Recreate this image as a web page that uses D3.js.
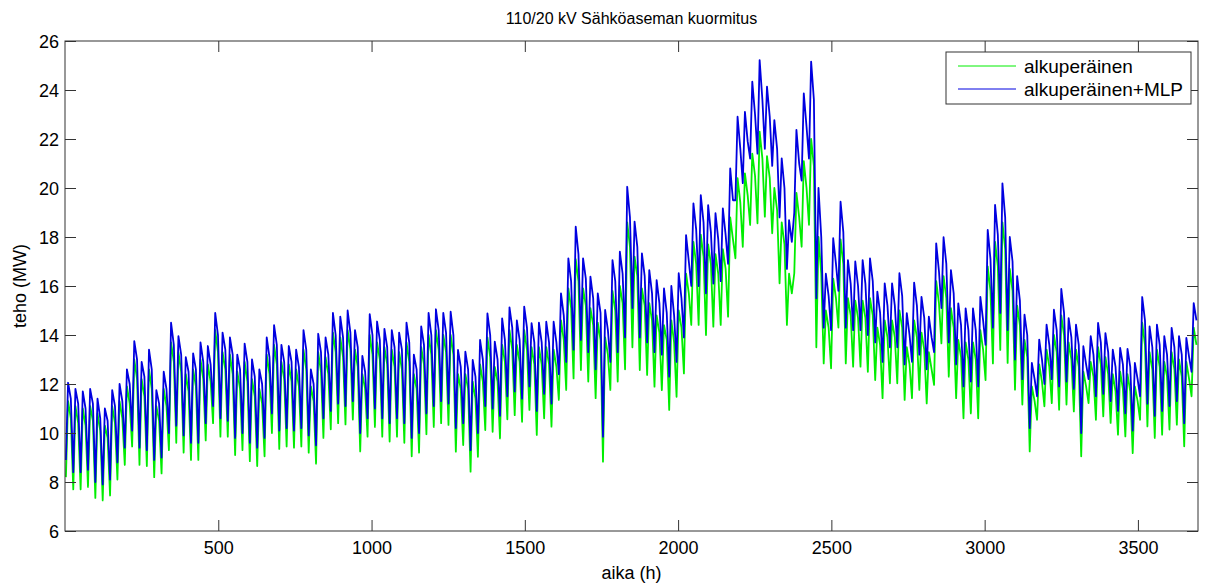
<!DOCTYPE html>
<html><head><meta charset="utf-8">
<script src="https://cdn.jsdelivr.net/npm/d3@7"></script>
<style>
html,body{margin:0;padding:0;background:#fff;}
svg text{font-family:"Liberation Sans",Arial,Helvetica,sans-serif;fill:#000;}
</style></head>
<body><svg id="c" width="1205" height="583"></svg>
<script>
// ---- data (per day: night trough, day peak, evening level; MW) ----
const hoursPerDay = 24;
const xTicks = [500, 1000, 1500, 2000, 2500, 3000, 3500];
const yTicks = [6, 8, 10, 12, 14, 16, 18, 20, 22, 24, 26];
const seriesNames = ["alkuperäinen", "alkuperäinen+MLP"];

const greenLow = [
8.2,7.7,7.7,7.8,7.35,7.25,7.45,8.1,8.7,9.45,
8.7,8.65,8.2,8.35,9.3,9.6,9.2,8.9,8.9,9.7,
10.4,9.85,9.85,9.1,9.3,8.85,8.65,9.05,10.0,9.35,
9.45,9.4,9.45,9.2,8.75,9.8,10.15,10.4,10.35,10.55,
9.25,9.85,10.25,9.85,9.65,9.85,9.6,9.05,9.2,9.95,
10.25,10.4,10.33,9.24,9.51,8.42,9.03,10.12,10.05,9.78,
10.56,10.73,10.46,10.94,9.92,10.6,10.26,11.35,11.76,12.23,
12.57,12.1,11.42,8.83,11.76,12.1,12.6,13.5,12.57,12.37,
11.89,11.75,10.94,11.48,12.43,14.41,14.41,14.0,14.34,14.41,
14.75,17.13,17.6,18.49,18.56,18.83,18.15,16.11,14.41,16.52,
17.6,18.5,13.5,12.84,12.64,14.3,12.84,12.71,12.71,12.5,
12.16,11.42,12.03,12.03,11.35,11.42,11.76,11.21,11.96,13.66,
12.3,11.42,10.6,10.8,10.6,12.16,12.84,13.39,12.86,11.77,
11.16,9.25,10.54,11.09,11.22,10.95,11.16,10.88,9.05,11.22,
10.54,10.68,10.41,9.93,9.86,9.18,10.54,10.27,9.8,9.93,
10.14,10.34,9.46,11.5];

const greenHigh = [
11.3,11.1,11.0,11.1,10.8,10.3,11.1,11.3,11.9,13.0,
12.2,12.6,11.1,11.8,13.7,13.3,12.4,12.6,13.0,12.8,
14.2,13.3,13.2,12.5,12.9,12.2,11.8,13.2,13.6,12.9,
12.8,12.6,13.4,11.9,13.3,13.1,14.1,13.9,14.2,13.4,
12.4,14.0,13.7,13.5,13.4,13.3,13.7,12.4,13.5,14.0,
14.2,14.0,14.0,12.4,12.4,12.1,12.8,13.9,12.7,13.6,
14.2,13.6,14.2,13.5,13.5,13.5,13.4,14.6,15.9,17.1,
15.9,15.1,14.5,13.9,15.8,16.0,18.6,17.2,15.9,15.3,
14.8,14.4,14.6,15.0,16.5,17.8,18.1,17.7,17.3,17.5,
18.8,20.4,20.6,21.4,22.3,21.3,20.0,18.6,16.5,19.8,
21.1,22.0,18.0,15.0,16.3,17.9,15.5,15.4,15.4,15.5,
14.3,14.6,14.6,15.0,13.5,14.6,14.1,13.3,16.2,16.4,
15.1,13.8,13.7,13.7,14.2,16.8,17.8,18.6,16.7,15.2,
13.8,11.9,12.8,13.4,14.0,14.8,13.7,13.4,12.5,12.9,
13.5,13.1,12.4,12.5,12.4,11.9,14.5,13.3,13.4,12.9,
13.3,13.0,12.9,14.3];

const greenEve = [
10.6,10.4,10.3,10.5,10.1,9.8,10.4,10.6,11.2,12.2,
11.5,11.8,10.5,11.1,12.9,12.5,11.7,11.9,12.2,12.1,
13.3,12.6,12.4,11.8,12.1,11.5,11.2,12.4,12.8,12.2,
12.1,11.9,12.6,11.3,12.5,12.4,13.3,13.1,13.4,12.7,
11.8,13.2,13.0,12.8,12.7,12.6,12.9,11.8,12.8,13.2,
13.4,13.3,13.2,11.8,11.8,11.4,12.1,13.1,12.1,12.9,
13.4,12.9,13.4,12.8,12.8,12.8,12.7,13.8,15.1,16.2,
15.2,14.4,13.8,13.2,15.0,15.3,17.6,16.4,15.2,14.6,
14.1,13.8,13.7,14.3,15.7,16.9,17.2,16.9,16.5,16.7,
17.9,19.4,19.7,20.5,21.2,20.4,19.1,17.7,15.7,18.8,
20.0,20.9,16.5,14.3,15.5,16.9,14.8,14.7,14.7,14.8,
13.6,13.9,13.9,14.3,12.8,13.9,13.4,12.6,15.3,15.5,
14.3,13.1,13.0,13.0,13.4,15.8,16.8,17.5,15.8,14.4,
13.1,11.3,12.1,12.7,13.3,14.0,13.0,12.7,11.9,12.3,
12.8,12.4,11.7,11.8,11.7,11.3,13.6,12.6,12.7,12.3,
12.6,12.3,12.2,13.6];

const blueLow = [
8.9,8.4,8.4,8.5,8.0,7.9,8.1,8.8,9.4,10.1,
9.4,9.3,8.9,9.0,10.0,10.3,9.9,9.6,9.6,10.4,
11.1,10.6,10.5,9.8,10.0,9.6,9.4,9.8,10.8,10.1,
10.2,10.1,10.2,9.9,9.5,10.6,10.9,11.2,11.1,11.3,
10.0,10.6,11.0,10.6,10.4,10.6,10.4,9.8,10.0,10.8,
11.1,11.3,11.2,10.2,10.4,9.3,10.0,11.1,11.0,10.7,
11.5,11.7,11.4,11.9,10.9,11.6,11.2,12.4,12.9,13.4,
13.8,13.3,12.6,9.85,12.9,13.3,13.9,15.1,13.9,13.7,
13.3,13.2,12.3,12.9,13.9,16.0,16.0,15.7,16.1,16.2,
16.9,19.5,20.2,21.2,21.4,21.6,20.9,18.8,16.7,19.0,
20.3,21.2,15.5,14.3,14.2,15.8,14.3,14.2,14.2,14.0,
13.7,12.9,13.5,13.5,12.8,12.9,13.2,12.6,13.3,15.1,
13.7,12.8,11.9,12.1,11.9,13.6,14.3,14.9,14.2,13.0,
12.2,10.2,11.5,12.0,12.2,11.9,12.1,11.8,10.0,12.2,
11.5,11.6,11.3,10.9,10.8,10.1,11.5,11.2,10.7,10.9,
11.1,11.3,10.4,12.5];

const blueHigh = [
12.05,11.8,11.7,11.8,11.4,11.0,11.75,12.0,12.6,13.75,
12.9,13.4,11.75,12.5,14.5,13.95,13.1,13.25,13.7,13.55,
14.9,14.1,13.9,13.2,13.65,13.0,12.6,13.9,14.4,13.6,
13.55,13.4,14.2,12.6,14.05,13.9,14.9,14.75,15.0,14.2,
13.15,14.85,14.55,14.25,14.2,14.1,14.5,13.2,14.35,14.9,
15.05,14.9,14.95,13.39,13.32,12.98,13.8,14.88,13.73,14.68,
15.13,14.6,15.16,14.48,14.5,14.54,14.54,15.7,17.13,18.42,
17.13,16.38,15.7,15.02,17.06,17.4,20.05,18.63,17.33,16.65,
16.24,15.9,16.0,16.52,18.08,19.37,19.71,19.3,18.97,19.17,
20.8,22.91,23.11,24.34,25.22,24.14,22.77,21.21,18.69,22.37,
23.86,25.16,20.0,16.5,17.95,19.44,17.06,17.0,17.06,17.13,
15.77,16.11,16.11,16.52,14.89,16.14,15.56,14.75,17.74,17.99,
16.65,15.29,15.09,15.09,15.56,18.29,19.31,20.19,18.0,16.4,
14.83,12.86,13.81,14.42,15.03,15.88,14.69,14.42,13.54,13.95,
14.49,14.08,13.4,13.47,13.43,12.86,15.55,14.35,14.42,13.95,
14.29,13.95,13.88,15.3];

const blueEve = [
11.4,11.2,11.0,11.2,10.6,10.5,11.1,11.3,12.0,13.0,
12.3,12.6,11.2,11.8,13.6,13.2,12.5,12.6,12.9,12.8,
14.0,13.4,13.2,12.6,12.9,12.3,12.0,13.1,13.6,12.9,
12.9,12.7,13.4,12.0,13.3,13.2,14.0,13.9,14.1,13.5,
12.5,14.0,13.8,13.5,13.5,13.4,13.7,12.6,13.6,14.0,
14.2,14.1,14.0,12.7,12.6,12.3,13.0,14.0,13.0,13.8,
14.3,13.8,14.3,13.7,13.7,13.7,13.7,14.8,16.2,17.3,
16.3,15.5,14.9,14.2,16.2,16.5,18.8,17.6,16.4,15.7,
15.3,14.9,14.8,15.5,17.0,18.3,18.6,18.2,17.9,18.1,
19.5,21.6,21.9,23.0,23.6,22.9,21.6,20.0,17.8,21.0,
22.5,23.6,18.0,15.6,16.9,18.2,16.1,16.0,16.1,16.2,
14.9,15.2,15.2,15.6,14.0,15.2,14.7,13.9,16.6,16.9,
15.7,14.4,14.2,14.2,14.6,17.1,18.1,18.8,17.0,15.4,
14.0,12.2,13.0,13.6,14.2,14.9,13.9,13.6,12.8,13.2,
13.7,13.3,12.7,12.8,12.7,12.2,14.6,13.5,13.6,13.2,
13.5,13.2,13.1,14.6];

// ---- layout ----
const svg = d3.select("#c");
const L = 65, R = 1198, T = 41, B = 531;
const nDays = greenLow.length;
const x = d3.scaleLinear().domain([0, nDays * hoursPerDay]).range([L, R]);
const y = d3.scaleLinear().domain([6, 26]).range([B, T]);
const FS = 18;

function toPoints(low, high, eve) {
  const p = [];
  low.forEach((v, d) => {
    p.push([d * hoursPerDay + 3, v]);
    p.push([d * hoursPerDay + 10, high[d]]);
    p.push([d * hoursPerDay + 19, eve[d]]);
  });
  return p;
}

svg.append("defs").append("clipPath").attr("id", "clip")
  .append("rect").attr("x", L).attr("y", T).attr("width", R - L).attr("height", B - T);

const line = d3.line().x(d => x(d[0])).y(d => y(d[1]));
const g = svg.append("g").attr("clip-path", "url(#clip)");
g.append("path").datum(toPoints(greenLow, greenHigh, greenEve)).attr("d", line)
  .attr("fill", "none").attr("stroke", "#00ee00").attr("stroke-width", 1.8).attr("stroke-linejoin", "round");
g.append("path").datum(toPoints(blueLow, blueHigh, blueEve)).attr("d", line)
  .attr("fill", "none").attr("stroke", "#0000e0").attr("stroke-width", 1.8).attr("stroke-linejoin", "round");

// ---- axes (MATLAB style: inward ticks, box) ----
const tl = 11;
const axB = svg.append("g").attr("transform", `translate(0,${B})`)
  .call(d3.axisBottom(x).tickValues(xTicks).tickSizeInner(-tl).tickSizeOuter(0).tickFormat(d3.format("d")));
axB.selectAll("text").attr("y", 23).attr("dy", 0).style("font-size", FS + "px");
const axT = svg.append("g").attr("transform", `translate(0,${T})`)
  .call(d3.axisTop(x).tickValues(xTicks).tickSizeInner(-tl).tickSizeOuter(0).tickFormat(""));
const axL = svg.append("g").attr("transform", `translate(${L},0)`)
  .call(d3.axisLeft(y).tickValues(yTicks).tickSizeInner(-tl).tickSizeOuter(0).tickFormat(d3.format("d")));
axL.selectAll("text").attr("x", -6).attr("dy", "0.36em").style("font-size", FS + "px");
const axR = svg.append("g").attr("transform", `translate(${R},0)`)
  .call(d3.axisRight(y).tickValues(yTicks).tickSizeInner(-tl).tickSizeOuter(0).tickFormat(""));
[axB, axT, axL, axR].forEach(a => {
  a.select(".domain").remove();
  a.selectAll("line").attr("stroke", "#333");
});
svg.append("rect").attr("x", L).attr("y", T).attr("width", R - L).attr("height", B - T)
  .attr("fill", "none").attr("stroke", "#333").attr("stroke-width", 1);

// ---- labels ----
svg.append("text").attr("x", (L + R) / 2).attr("y", 24).attr("text-anchor", "middle")
  .style("font-size", "16px").text("110/20 kV Sähköaseman kuormitus");
svg.append("text").attr("x", (L + R) / 2).attr("y", 579).attr("text-anchor", "middle")
  .style("font-size", FS + "px").text("aika (h)");
svg.append("text").attr("transform", `translate(26,${(T + B) / 2}) rotate(-90)`).attr("text-anchor", "middle")
  .style("font-size", FS + "px").text("teho (MW)");

// ---- legend ----
const lg = svg.append("g");
lg.append("rect").attr("x", 946).attr("y", 52).attr("width", 245).attr("height", 52)
  .attr("fill", "#fff").attr("stroke", "#333");
const colors = ["#00ee00", "#0000e0"];
seriesNames.forEach((n, i) => {
  const yy = 66 + i * 23;
  lg.append("line").attr("x1", 958).attr("x2", 1016).attr("y1", yy).attr("y2", yy)
    .attr("stroke", colors[i]).attr("stroke-width", 1);
  lg.append("text").attr("x", 1024).attr("y", yy).attr("dy", "0.36em")
    .style("font-size", "19px").text(n);
});
</script></body></html>
